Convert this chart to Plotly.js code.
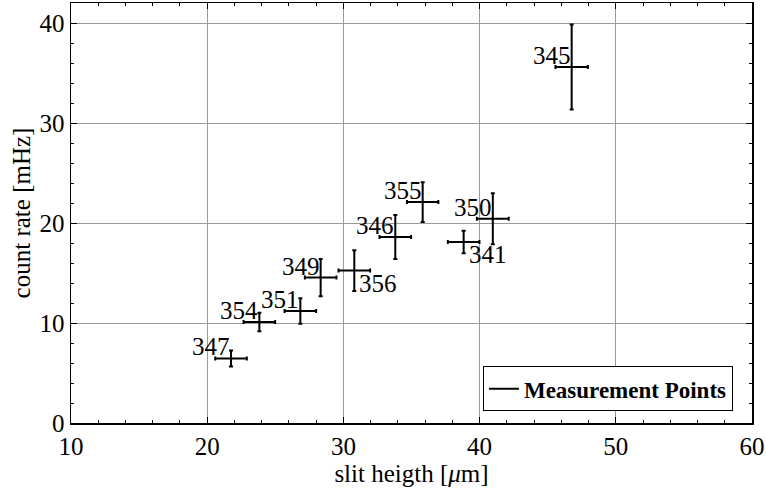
<!DOCTYPE html>
<html>
<head>
<meta charset="utf-8">
<script src="https://cdn.plot.ly/plotly-3.0.1.min.js"></script>
<style>html,body{margin:0;padding:0;background:#fff;}#chart{width:766px;height:494px;}</style>
</head>
<body>
<div id="chart"></div>
<script>
// Data
const runIds = ["347", "354", "351", "349", "356", "346", "355", "341", "350", "345"];
const slitHeight = [21.75, 23.83, 26.84, 28.33, 30.8, 33.81, 35.82, 38.83, 40.97, 46.76];
const countRate = [6.46, 10.1, 11.2, 14.54, 15.24, 18.6, 22.09, 18.1, 20.43, 35.6];
const slitErr = [1.16, 1.16, 1.16, 1.16, 1.16, 1.16, 1.15, 1.16, 1.17, 1.19];
const rateErr = [0.8, 0.93, 1.27, 1.87, 2.03, 2.2, 1.98, 1.13, 2.55, 4.25];
const labelSide = ["tl", "tl", "tl", "tl", "br", "tl", "tl", "br", "tl", "tl"];

const FONT = "Liberation Serif, Times New Roman, serif";

const traces = [
  {
    x: slitHeight, y: countRate, type: "scatter", mode: "markers",
    marker: {size: 0.1, color: "black", opacity: 0},
    error_x: {type: "data", array: slitErr, visible: true, color: "black", thickness: 2, width: 2},
    error_y: {type: "data", array: rateErr, visible: true, color: "black", thickness: 2, width: 2},
    showlegend: false, hoverinfo: "skip"
  },
  {
    x: [null], y: [null], type: "scatter", mode: "lines",
    line: {color: "black", width: 2},
    name: "<b>Measurement Points</b>", showlegend: true
  }
];

const annotations = runIds.map((id, i) => {
  const tl = labelSide[i] === "tl";
  return {
    x: slitHeight[i], y: countRate[i], xref: "x", yref: "y",
    text: id, showarrow: false,
    xanchor: tl ? "right" : "left",
    yanchor: tl ? "bottom" : "top",
    xshift: tl ? 0 : 4,
    yshift: tl ? -3 : 2,
    font: {family: FONT, size: 25, color: "black"},
    borderpad: 0
  };
});

const layout = {
  width: 766, height: 494,
  margin: {l: 71, r: 14, t: 3, b: 71},
  paper_bgcolor: "white", plot_bgcolor: "white",
  font: {family: FONT, size: 25, color: "black"},
  xaxis: {
    range: [10, 60], dtick: 10, tick0: 10,
    showgrid: true, gridcolor: "#9a9a9a", gridwidth: 1,
    zeroline: false, showline: true, linecolor: "black", linewidth: 1.5, mirror: "ticks",
    ticks: "inside", ticklen: 6, tickcolor: "black", tickwidth: 1,
    minor: {dtick: 2, ticks: "inside", ticklen: 3, tickcolor: "black", showgrid: false},
    tickfont: {family: FONT, size: 25},
    title: {text: "slit heigth [<i>μ</i>m]", font: {family: FONT, size: 25}, standoff: 0},
    automargin: false
  },
  yaxis: {
    range: [0, 42], dtick: 10, tick0: 0,
    showgrid: true, gridcolor: "#9a9a9a", gridwidth: 1,
    zeroline: false, showline: true, linecolor: "black", linewidth: 1.5, mirror: "ticks",
    ticks: "inside", ticklen: 6, tickcolor: "black", tickwidth: 1,
    minor: {dtick: 2, ticks: "inside", ticklen: 3, tickcolor: "black", showgrid: false},
    tickfont: {family: FONT, size: 25},
    title: {text: "count rate [mHz]", font: {family: FONT, size: 25}, standoff: 2},
    automargin: false
  },
  legend: {
    x: 0.972, y: 0.028, xanchor: "right", yanchor: "bottom",
    bgcolor: "white", bordercolor: "black", borderwidth: 1,
    font: {family: FONT, size: 23, color: "black"},
    itemwidth: 30, tracegroupgap: 0
  },
  annotations: annotations,
  showlegend: true
};

Plotly.newPlot("chart", traces, layout, {displayModeBar: false, staticPlot: true});
</script>
</body>
</html>
